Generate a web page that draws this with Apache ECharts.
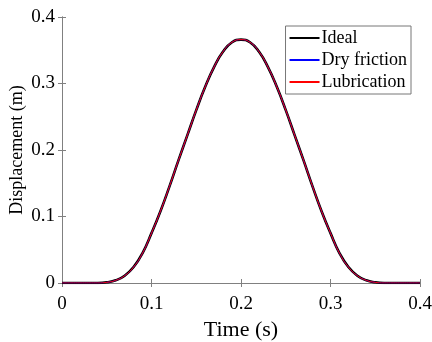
<!DOCTYPE html>
<html><head><meta charset="utf-8">
<script src="https://cdn.jsdelivr.net/npm/echarts@6/dist/echarts.min.js"></script>
<style>html,body{margin:0;padding:0;background:#fff}#c{width:432px;height:342px}</style>
</head><body><div id="c"></div>
<script>
var time = [0,0.01,0.02,0.03,0.04,0.05,0.06,0.07,0.08,0.09,0.10,0.11,0.12,0.13,0.14,0.15,0.16,0.17,0.18,0.19,0.20,
  0.21,0.22,0.23,0.24,0.25,0.26,0.27,0.28,0.29,0.30,0.31,0.32,0.33,0.34,0.35,0.36,0.37,0.38,0.39,0.40];
var ideal = [0,0,0,0,0,0.001,0.004,0.011,0.024,0.045,0.075,0.108,0.145,0.184,0.222,0.260,0.295,0.325,0.348,0.362,0.366,
  0.362,0.348,0.325,0.295,0.260,0.222,0.184,0.145,0.108,0.075,0.045,0.024,0.011,0.004,0.001,0,0,0,0,0];
var dryFriction = [0,0,0,0,0,0.001,0.004,0.011,0.024,0.045,0.075,0.108,0.145,0.184,0.222,0.260,0.295,0.325,0.348,0.362,0.366,
  0.362,0.348,0.325,0.295,0.260,0.222,0.184,0.145,0.108,0.075,0.045,0.024,0.011,0.004,0.001,0,0,0,0,0];
var lubrication = [0,0,0,0,0,0.001,0.004,0.011,0.024,0.045,0.075,0.108,0.145,0.184,0.222,0.260,0.295,0.325,0.348,0.362,0.366,
  0.362,0.348,0.325,0.295,0.260,0.222,0.184,0.145,0.108,0.075,0.045,0.024,0.011,0.004,0.001,0,0,0,0,0];
var xTicks = [0,0.1,0.2,0.3,0.4];
var yTicks = [0,0.1,0.2,0.3,0.4];
var seriesNames = ['Ideal','Dry friction','Lubrication'];

function pairs(v){return time.map(function(t,i){return [t,v[i]];});}
var font = '"Liberation Serif","Times New Roman",serif';
var axisCol = '#808080';
function fmt(v){return v===0?'0':String(v);}
var chart = echarts.init(document.getElementById('c'));
chart.setOption({
  animation:false,
  grid:{left:62,top:17,right:12,bottom:59,show:false,containLabel:false,outerBoundsMode:'none'},
  legend:{
    data:seriesNames, orient:'vertical', right:21, top:26,
    backgroundColor:'#fff', borderColor:'#777', borderWidth:1, borderRadius:0,
    padding:[3,4,3,4], itemGap:4, itemWidth:30, itemHeight:17,
    textStyle:{fontFamily:font,fontSize:18,lineHeight:17,color:'#000',padding:[0,0,0,-3]},
    icon:'path://M0,8 L30,8 L30,10 L0,10 Z'
  },
  xAxis:[{
    type:'value', min:0, max:0.4, interval:0.1, position:'bottom',
    name:'Time (s)', nameLocation:'middle', nameGap:36, nameMoveOverlap:false,
    nameTextStyle:{fontFamily:font,fontSize:22,color:'#000'},
    axisLine:{show:true,lineStyle:{color:axisCol,width:1}},
    axisTick:{show:true,inside:true,length:4,lineStyle:{color:axisCol}},
    axisLabel:{fontFamily:font,fontSize:19,color:'#000',margin:12,formatter:fmt},
    splitLine:{show:false}
  },{
    type:'value', min:0, max:0.4, interval:0.1, position:'top',
    axisLine:{show:true,lineStyle:{color:axisCol,width:1}},
    axisTick:{show:true,inside:true,length:4,lineStyle:{color:axisCol}},
    axisLabel:{show:false}, splitLine:{show:false}
  }],
  yAxis:[{
    type:'value', min:0, max:0.4, interval:0.1, position:'left',
    name:'Displacement (m)', nameLocation:'middle', nameGap:36, nameMoveOverlap:false,
    nameTextStyle:{fontFamily:font,fontSize:18,color:'#000'},
    axisLine:{show:true,lineStyle:{color:axisCol,width:1}},
    axisTick:{show:true,inside:true,length:4,lineStyle:{color:axisCol}},
    axisLabel:{fontFamily:font,fontSize:19,color:'#000',margin:7,formatter:fmt},
    splitLine:{show:false}
  },{
    type:'value', min:0, max:0.4, interval:0.1, position:'right',
    axisLine:{show:true,lineStyle:{color:axisCol,width:1}},
    axisTick:{show:true,inside:true,length:4,lineStyle:{color:axisCol}},
    axisLabel:{show:false}, splitLine:{show:false}
  }],
  series:[
    {name:'Ideal',type:'line',data:pairs(ideal),smooth:true,showSymbol:false,lineStyle:{color:'#000',width:2.6},itemStyle:{color:'#000'}},
    {name:'Dry friction',type:'line',data:pairs(dryFriction),smooth:true,showSymbol:false,lineStyle:{color:'#0000ff',width:1},itemStyle:{color:'#0000ff'}},
    {name:'Lubrication',type:'line',data:pairs(lubrication),smooth:true,showSymbol:false,lineStyle:{color:'#ff0000',width:1},itemStyle:{color:'#ff0000'}}
  ]
});
</script></body></html>
